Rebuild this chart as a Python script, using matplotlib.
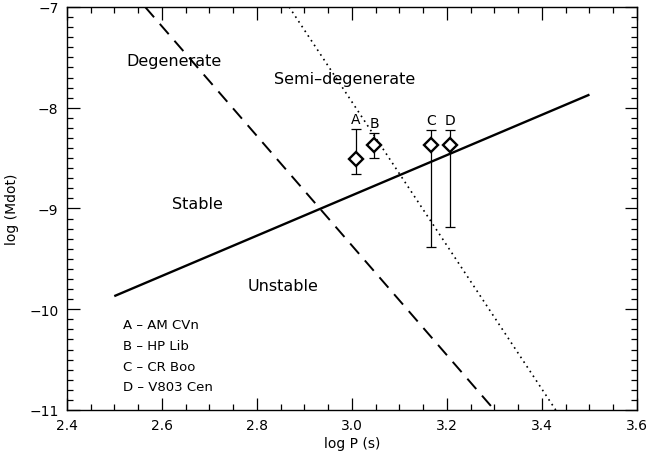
import matplotlib
matplotlib.use("Agg")
import matplotlib.pyplot as plt
from matplotlib.ticker import MultipleLocator

# Data
stab_x = [2.5, 3.5]
stab_y = [-9.87, -7.87]
deg_x = [2.565, 3.30]
deg_y = [-7.0, -11.0]
semi_x = [2.868, 3.429]
semi_y = [-7.0, -11.0]

obj_labels = ["A", "B", "C", "D"]
obj_x = [3.008, 3.047, 3.166, 3.206]
obj_y = [-8.51, -8.37, -8.37, -8.37]
obj_hi = [-8.21, -8.25, -8.22, -8.22]
obj_lo = [-8.66, -8.50, -9.38, -9.18]
legend_lines = ["A \u2013 AM CVn", "B \u2013 HP Lib", "C \u2013 CR Boo", "D \u2013 V803 Cen"]

plt.rcParams['font.family'] = ['DejaVu Sans']
fig = plt.figure(figsize=(6.48, 4.56), dpi=100)
ax = fig.add_axes([0.103, 0.0987, 0.88, 0.8838])

ax.plot(stab_x, stab_y, color='black', lw=1.7, solid_capstyle='butt')
ax.plot(deg_x, deg_y, color='black', lw=1.4, dashes=(7, 4.5))
ax.plot(semi_x, semi_y, color='black', lw=1.2, dashes=(1, 2.4))

yerr_lo = [y - l for y, l in zip(obj_y, obj_lo)]
yerr_hi = [h - y for y, h in zip(obj_y, obj_hi)]
ax.errorbar(obj_x, obj_y, yerr=[yerr_lo, yerr_hi], fmt='none', ecolor='black',
            elinewidth=0.9, capsize=3.5, capthick=0.9)
ax.plot(obj_x, obj_y, linestyle='none', marker='D', markersize=7,
        markerfacecolor='white', markeredgecolor='black', markeredgewidth=1.7)
for lab, x, h in zip(obj_labels, obj_x, obj_hi):
    ax.text(x, h + 0.03, lab, ha='center', va='bottom', fontsize=10)

ax.text(2.625, -7.53, "Degenerate", ha='center', va='center', fontsize=11.5)
ax.text(2.985, -7.71, "Semi\u2013degenerate", ha='center', va='center', fontsize=11.5)
ax.text(2.674, -8.95, "Stable", ha='center', va='center', fontsize=11.5)
ax.text(2.855, -9.76, "Unstable", ha='center', va='center', fontsize=11.5)

for i, t in enumerate(legend_lines):
    ax.text(2.518, -10.15 - 0.207 * i, t, ha='left', va='center', fontsize=9.5)

ax.set_xlim(2.4, 3.6)
ax.set_ylim(-11, -7)
ax.xaxis.set_minor_locator(MultipleLocator(0.05))
ax.yaxis.set_major_locator(MultipleLocator(1))
ax.yaxis.set_minor_locator(MultipleLocator(0.1))
ax.set_xticks([2.4, 2.6, 2.8, 3.0, 3.2, 3.4, 3.6])
ax.set_xticklabels(["2.4", "2.6", "2.8", "3.0", "3.2", "3.4", "3.6"])
ax.tick_params(which='both', direction='in', top=True, right=True, labelsize=10, width=0.9)
ax.tick_params(which='major', length=9, pad=6)
ax.tick_params(which='minor', length=4.5)
for s in ax.spines.values():
    s.set_linewidth(1.0)

ax.set_xlabel("log P (s)", fontsize=10, labelpad=3)
ax.set_ylabel("log (Mdot)", fontsize=10, labelpad=7)

fig.savefig("out.png", dpi=100)
